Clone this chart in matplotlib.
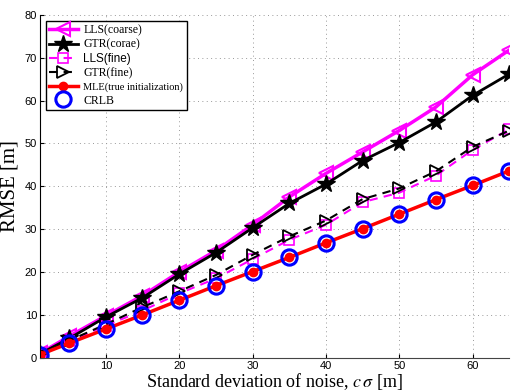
import matplotlib
matplotlib.use("Agg")
import matplotlib.pyplot as plt

plt.rcParams["mathtext.fontset"] = "stix"

# noise std (m)
sigma = [1, 5, 10, 15, 20, 25, 30, 35, 40, 45, 50, 55, 60, 65]

lls_coarse = [1.0, 5.0, 9.8, 14.5, 20.0, 25.0, 31.0, 37.5, 43.0, 48.0, 53.0, 58.5, 66.0, 71.8]
gtr_coarse = [0.9, 4.5, 9.5, 14.0, 19.5, 24.5, 30.3, 36.0, 40.5, 46.0, 50.2, 55.0, 61.2, 66.2]
lls_fine = [0.8, 3.8, 7.5, 11.0, 15.0, 18.5, 23.0, 27.5, 31.0, 36.3, 38.5, 42.5, 48.5, 53.3]
gtr_fine = [0.8, 4.0, 7.8, 11.8, 15.5, 19.3, 24.0, 28.3, 32.0, 37.0, 39.5, 43.5, 49.2, 53.0]
mle = [0.7, 3.4, 6.7, 10.0, 13.4, 16.8, 20.1, 23.4, 26.8, 30.1, 33.5, 36.9, 40.2, 43.6]
crlb = [0.7, 3.4, 6.7, 10.0, 13.4, 16.8, 20.1, 23.4, 26.8, 30.1, 33.5, 36.9, 40.2, 43.6]

serif = ["Liberation Serif", "DejaVu Serif"]
sans = ["Liberation Sans", "DejaVu Sans"]

fig = plt.figure(figsize=(5.17, 3.91), dpi=100)
ax = fig.add_axes([0.077, 0.085, 0.908, 0.877])

ax.plot(sigma, lls_coarse, color="#ff00ff", lw=2.5, marker="<", ms=10,
        mfc="none", mew=1.5, label="LLS(coarse)")
ax.plot(sigma, gtr_coarse, color="black", lw=2.0, marker="*", ms=13,
        label="GTR(corae)")
ax.plot(sigma, lls_fine, color="#ff00ff", lw=1.5, ls="--", dashes=(4, 3), marker="s",
        ms=7, mfc="none", mew=1.2, label="LLS(fine)")
ax.plot(sigma, gtr_fine, color="black", lw=1.5, ls="--", dashes=(4, 3), marker=">",
        ms=9, mfc="none", mew=1.3, label="GTR(fine)")
ax.plot(sigma, mle, color="red", lw=2.5, marker="o", ms=6, label="MLE(true initialization)")
ax.plot(sigma, crlb, ls="none", marker="o", ms=11, mfc="none", mec="blue", mew=2.2,
        label="CRLB")

ax.set_xlim(1, 65)
ax.set_ylim(0, 80)
ax.set_xticks([10, 20, 30, 40, 50, 60])
ax.set_yticks([0, 10, 20, 30, 40, 50, 60, 70, 80])
ax.tick_params(direction="in", labelsize=8, length=3, pad=2)
for lab in ax.get_xticklabels() + ax.get_yticklabels():
    lab.set_family(sans)
ax.grid(True, ls=(0, (1, 3.5)), color="#999999", lw=0.7)
ax.spines["top"].set_visible(False)
ax.spines["right"].set_visible(False)
ax.spines["bottom"].set_color("#444444")

ax.set_xlabel(r"Standard deviation of noise, $c\,\sigma$ [m]", fontsize=13,
              family=serif, labelpad=0)
ax.set_ylabel("RMSE [m]", fontsize=15, family=serif, labelpad=4)

leg = ax.legend(loc="upper left", bbox_to_anchor=(0.0, 1.0), fancybox=False,
                framealpha=1, edgecolor="black", handlelength=2.4,
                borderpad=0.3, labelspacing=0.2, handletextpad=0.5, fontsize=8.5)
leg.get_frame().set_linewidth(1.0)
fams = [serif, serif, sans, serif, serif, serif]
for t, f in zip(leg.get_texts(), fams):
    t.set_family(f)
leg.get_texts()[4].set_fontsize(7.5)

fig.savefig("out.png", dpi=100)
